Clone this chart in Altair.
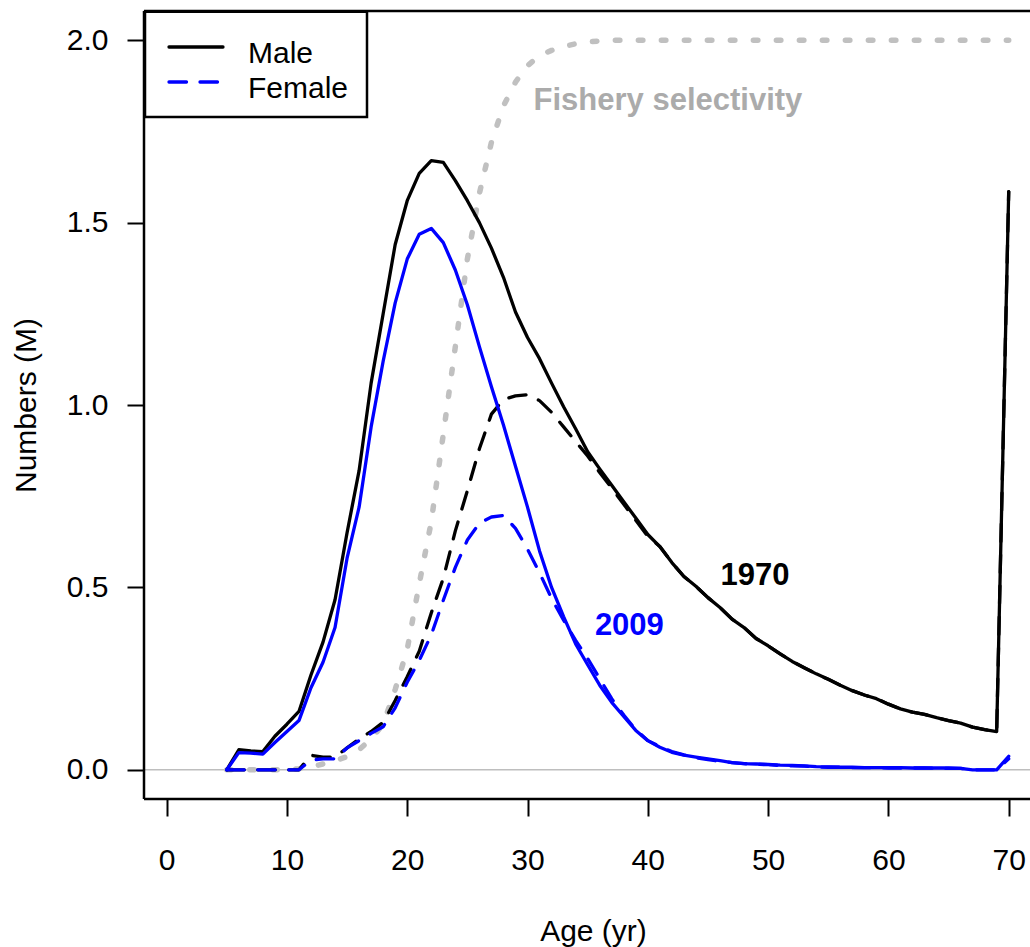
import altair as alt
import pandas as pd

# Ages 5..70 (70 is the plus group)
ages = list(range(5, 71))

male_1970 = [
    0.000, 0.055, 0.052, 0.050, 0.092, 0.125, 0.160, 0.260, 0.350, 0.466,
    0.650, 0.820, 1.060, 1.250, 1.440, 1.560, 1.635, 1.670, 1.665, 1.615,
    1.560, 1.500, 1.430, 1.350, 1.255, 1.185, 1.127, 1.060, 0.995, 0.935,
    0.872, 0.825, 0.780, 0.735, 0.690, 0.645, 0.612, 0.568, 0.530, 0.503,
    0.472, 0.445, 0.413, 0.390, 0.360, 0.340, 0.318, 0.297, 0.280, 0.263,
    0.248, 0.232, 0.217, 0.205, 0.195, 0.180, 0.167, 0.158, 0.152, 0.143,
    0.135, 0.128, 0.117, 0.110, 0.105, 1.585,
]

female_1970 = [
    0.000, 0.000, 0.000, 0.000, 0.000, 0.000, 0.000, 0.040, 0.035, 0.035,
    0.060, 0.085, 0.105, 0.130, 0.190, 0.255, 0.325, 0.430, 0.525, 0.655,
    0.765, 0.880, 0.975, 1.015, 1.025, 1.028, 1.012, 0.980, 0.940, 0.900,
    0.860, 0.815, 0.772, 0.728, 0.684, 0.640, 0.612, 0.568, 0.530, 0.503,
    0.472, 0.445, 0.413, 0.390, 0.360, 0.340, 0.318, 0.297, 0.280, 0.263,
    0.248, 0.232, 0.217, 0.205, 0.195, 0.180, 0.167, 0.158, 0.152, 0.143,
    0.135, 0.128, 0.117, 0.110, 0.105, 1.585,
]

male_2009 = [
    0.000, 0.047, 0.046, 0.043, 0.075, 0.105, 0.135, 0.225, 0.295, 0.390,
    0.580, 0.720, 0.940, 1.120, 1.280, 1.400, 1.468, 1.484, 1.445, 1.370,
    1.275, 1.160, 1.050, 0.945, 0.832, 0.720, 0.600, 0.500, 0.420, 0.345,
    0.288, 0.232, 0.185, 0.146, 0.108, 0.080, 0.062, 0.048, 0.040, 0.035,
    0.030, 0.025, 0.020, 0.017, 0.016, 0.015, 0.013, 0.012, 0.011, 0.009,
    0.008, 0.007, 0.007, 0.006, 0.006, 0.006, 0.006, 0.005, 0.005, 0.005,
    0.005, 0.004, 0.000, 0.000, 0.000, 0.037,
]

female_2009 = [
    0.000, 0.000, 0.000, 0.000, 0.000, 0.000, 0.000, 0.027, 0.030, 0.030,
    0.060, 0.080, 0.100, 0.118, 0.170, 0.240, 0.300, 0.370, 0.465, 0.555,
    0.630, 0.676, 0.693, 0.697, 0.662, 0.605, 0.540, 0.470, 0.410, 0.355,
    0.305, 0.250, 0.195, 0.150, 0.110, 0.080, 0.064, 0.050, 0.041, 0.033,
    0.028, 0.023, 0.020, 0.017, 0.015, 0.014, 0.012, 0.011, 0.010, 0.008,
    0.007, 0.007, 0.006, 0.006, 0.006, 0.005, 0.005, 0.005, 0.005, 0.004,
    0.004, 0.004, 0.000, 0.000, 0.000, 0.030,
]

# Fishery selectivity, scaled so that full selection sits at 2.0
selectivity = [
    0.000, 0.000, 0.000, 0.000, 0.000, 0.000, 0.003, 0.008, 0.016, 0.025,
    0.036, 0.055, 0.085, 0.125, 0.220, 0.330, 0.510, 0.680, 0.920, 1.160,
    1.400, 1.580, 1.720, 1.820, 1.885, 1.930, 1.958, 1.972, 1.983, 1.990,
    1.995, 1.998, 2.000, 2.000, 2.000, 2.000, 2.000, 2.000, 2.000, 2.000,
    2.000, 2.000, 2.000, 2.000, 2.000, 2.000, 2.000, 2.000, 2.000, 2.000,
    2.000, 2.000, 2.000, 2.000, 2.000, 2.000, 2.000, 2.000, 2.000, 2.000,
    2.000, 2.000, 2.000, 2.000, 2.000, 2.000,
]

x_ticks = [0, 10, 20, 30, 40, 50, 60, 70]
y_ticks = [0.0, 0.5, 1.0, 1.5, 2.0]

series = {
    "Selectivity": selectivity,
    "Male 1970": male_1970,
    "Female 1970": female_1970,
    "Male 2009": male_2009,
    "Female 2009": female_2009,
}

rows = []
for name, vals in series.items():
    for a, v in zip(ages, vals):
        rows.append({"age": a, "numbers": v, "series": name})
df = pd.DataFrame(rows)

# In-plot annotations: text, anchor (age, numbers), colour
notes = pd.DataFrame({
    "label": ["Fishery selectivity", "1970", "2009"],
    "age": [30.5, 46.05, 35.6],
    "numbers": [1.808, 0.507, 0.370],
    "color": ["#ABABAB", "#000000", "#0000FF"],
})

FONT = "Liberation Sans"
W, H = 886, 788

x_scale = alt.Scale(domain=[-1.88, 71.77], nice=False, zero=False)
y_scale = alt.Scale(domain=[-0.08, 2.08], nice=False, zero=False)

x_axis = alt.Axis(
    values=x_ticks, title="Age (yr)", domain=False, grid=False,
    tickSize=17, tickWidth=2, tickColor="black",
    labelFont=FONT, labelFontSize=30, labelColor="black", labelPadding=29,
    labelFlush=False, labelOverlap=False,
    titleFont=FONT, titleFontSize=30, titleFontWeight="normal", titleColor="black",
    titleX=449, titleY=141, titleBaseline="alphabetic",
)
y_axis = alt.Axis(
    values=y_ticks, format=".1f", title="Numbers (M)", domain=False, grid=False,
    tickSize=17, tickWidth=2, tickColor="black",
    labelFont=FONT, labelFontSize=30, labelColor="black", labelPadding=19,
    labelFlush=False, labelOverlap=False,
    titleFont=FONT, titleFontSize=30, titleFontWeight="normal", titleColor="black",
    titleX=-109, titleY=394, titleBaseline="alphabetic",
)

X = alt.X("age:Q", scale=x_scale, axis=x_axis)
Y = alt.Y("numbers:Q", scale=y_scale, axis=y_axis)

base = alt.Chart(df).encode(x=X, y=Y)


def curve(name, color, width, dash=None):
    kw = dict(color=color, strokeWidth=width, strokeCap="round", strokeJoin="round")
    if dash is not None:
        kw["strokeDash"] = dash
    return base.transform_filter(alt.datum.series == name).mark_line(**kw)


DASH = [17.5, 13.5]
LW = 3.3

zero_line = alt.Chart(pd.DataFrame({"numbers": [0.0]})).mark_rule(
    color="#BEBEBE", strokeWidth=1.5
).encode(y=Y, x=alt.value(0), x2=alt.value(W))

sel_line = curve("Selectivity", "#C0C0C0", 5.5, [4.5, 18.5])
m70 = curve("Male 1970", "black", LW)
f70 = curve("Female 1970", "black", LW, DASH)
m09 = curve("Male 2009", "#0000FF", LW)
f09 = curve("Female 2009", "#0000FF", LW, DASH)

note_text = alt.Chart(notes).mark_text(
    align="left", baseline="alphabetic", font=FONT, fontSize=31, fontWeight="bold"
).encode(x=X, y=Y, text="label:N", color=alt.Color("color:N", scale=None))

one = pd.DataFrame({"k": [0]})
frame_left = alt.Chart(one).mark_rule(color="black", strokeWidth=2.5).encode(
    x=alt.value(0), y=alt.value(0), y2=alt.value(H))
frame_top = alt.Chart(one).mark_rule(color="black", strokeWidth=2.5).encode(
    x=alt.value(0), x2=alt.value(W), y=alt.value(0))
frame_bottom = alt.Chart(one).mark_rule(color="black", strokeWidth=2.5).encode(
    x=alt.value(0), x2=alt.value(W), y=alt.value(H))

legend_box = alt.Chart(one).mark_rect(fill="white", stroke="black", strokeWidth=2.5).encode(
    x=alt.value(1), x2=alt.value(223), y=alt.value(0.7), y2=alt.value(106))
legend_male = alt.Chart(one).mark_rule(color="black", strokeWidth=LW, strokeCap="round").encode(
    x=alt.value(25), x2=alt.value(79), y=alt.value(36))
legend_female = alt.Chart(one).mark_rule(
    color="#0000FF", strokeWidth=LW, strokeCap="round", strokeDash=DASH
).encode(x=alt.value(25), x2=alt.value(79), y=alt.value(71))
legend_male_txt = alt.Chart(one).mark_text(
    align="left", baseline="alphabetic", font=FONT, fontSize=30, color="black"
).encode(x=alt.value(104), y=alt.value(52), text=alt.value("Male"))
legend_female_txt = alt.Chart(one).mark_text(
    align="left", baseline="alphabetic", font=FONT, fontSize=30, color="black"
).encode(x=alt.value(104), y=alt.value(87), text=alt.value("Female"))

chart = alt.layer(
    zero_line, sel_line, m70, f70, m09, f09, note_text,
    frame_left, frame_top, frame_bottom,
    legend_box, legend_male, legend_female, legend_male_txt, legend_female_txt,
).properties(
    width=W, height=H,
    autosize=alt.AutoSizeParams(type="none"),
    padding={"left": 144, "top": 11, "right": 0, "bottom": 148},
    background="white",
).configure_view(stroke=None)

chart.save("out.html", embed_options={"renderer": "svg", "actions": False})
